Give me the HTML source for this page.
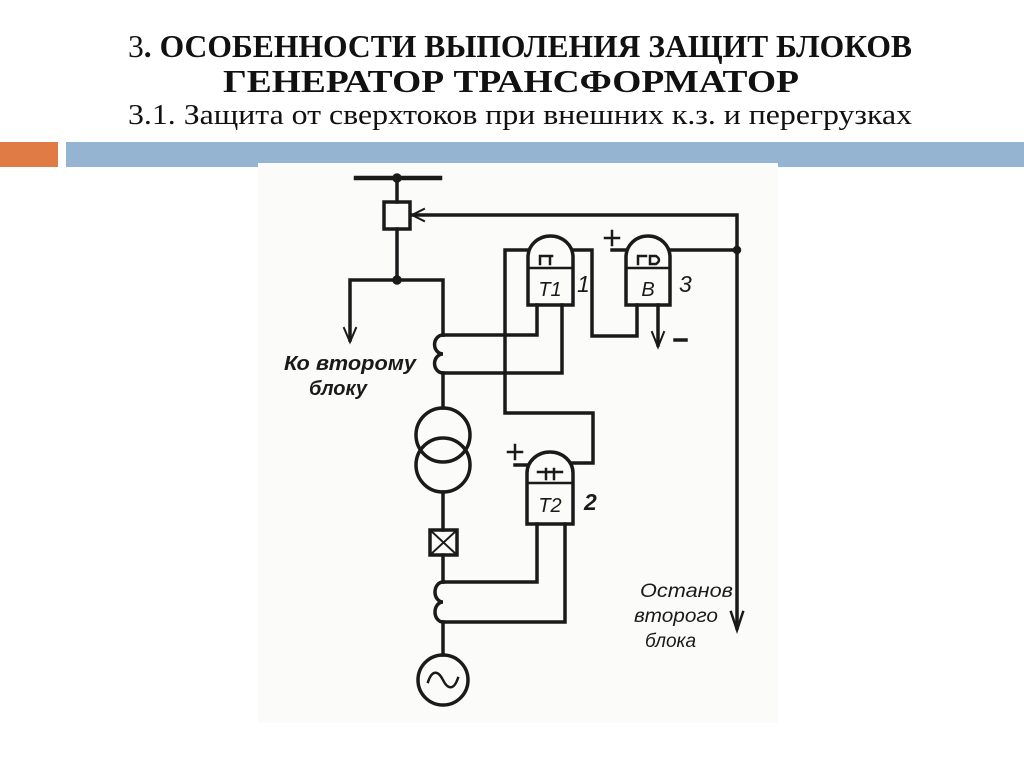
<!DOCTYPE html>
<html><head><meta charset="utf-8"><style>
html,body{margin:0;padding:0;background:#fff;}
svg{display:block}
</style></head><body>
<svg width="1024" height="767" viewBox="0 0 1024 767" xmlns="http://www.w3.org/2000/svg">
<rect width="1024" height="767" fill="#fff"/>
<g font-family="Liberation Serif, serif" fill="#111">
<text x="128" y="57" font-size="32" textLength="784" lengthAdjust="spacingAndGlyphs"><tspan>3</tspan><tspan font-weight="bold">. ОСОБЕННОСТИ ВЫПОЛЕНИЯ ЗАЩИТ БЛОКОВ</tspan></text>
<text x="223" y="92" font-size="32" font-weight="bold" textLength="576" lengthAdjust="spacingAndGlyphs">ГЕНЕРАТОР ТРАНСФОРМАТОР</text>
<text x="128" y="124" font-size="29" textLength="784" lengthAdjust="spacingAndGlyphs">3.1. Защита от сверхтоков при внешних к.з. и перегрузках</text>
</g>
<rect x="0" y="142" width="58" height="25" fill="#e07b45"/>
<rect x="66" y="142" width="958" height="25" fill="#95b4d1"/>
<rect x="258" y="163" width="520" height="560" fill="#fbfbf9"/>
<g stroke="#1a1a1a" stroke-width="3.5" fill="none" stroke-linecap="square">
<line x1="356" y1="178" x2="440" y2="178" stroke-width="4.5"/>
<circle cx="397" cy="178" r="3" fill="#1a1a1a"/>
<line x1="397" y1="178" x2="397" y2="202"/>
<rect x="384" y="202" width="26" height="27"/>
<line x1="397" y1="229" x2="397" y2="280"/>
<circle cx="397" cy="280" r="3" fill="#1a1a1a"/>
<polyline points="350,340 350,280 443,280 443,335"/>
<polyline points="344,328 350,342 356,328" stroke-width="2"/>
<path d="M443,335 a8,9 0 0 0 0,19 a8,9 0 0 0 0,19"/>
<line x1="443" y1="373" x2="443" y2="408"/>
<circle cx="443" cy="435" r="27"/>
<circle cx="443" cy="465" r="27"/>
<line x1="443" y1="492" x2="443" y2="530"/>
<rect x="430" y="530" width="27" height="25"/>
<line x1="430" y1="530" x2="457" y2="555" stroke-width="2"/>
<line x1="457" y1="530" x2="430" y2="555" stroke-width="2"/>
<line x1="443" y1="555" x2="443" y2="582"/>
<path d="M443,582 a8,10 0 0 0 0,20 a8,10 0 0 0 0,20"/>
<line x1="443" y1="622" x2="443" y2="655"/>
<circle cx="443" cy="680" r="25"/>
<path d="M428,682 c4,-12 10,-12 15,-2 s11,10 15,-2" stroke-width="2.5"/>
<polyline points="412,215 737,215 737,628"/>
<polyline points="424,209 412,215 424,221" stroke-width="2"/>
<polyline points="731,612 737,630 743,612" stroke-width="2.5"/>
<path d="M528,305 L528,257 A22.5,21 0 0 1 573,257 L573,305 Z"/>
<line x1="528" y1="268" x2="573" y2="268" stroke-width="2.5"/>
<path d="M540,264 v-8 h12 M550,256 v8" stroke-width="2.5"/>
<path d="M626,305 L626,257 A22,21 0 0 1 670,257 L670,305 Z"/>
<line x1="626" y1="268" x2="670" y2="268" stroke-width="2.5"/>
<path d="M638,264 v-8 h8 M650,264 v-8 h6 q6,4 0,8 h-5" stroke-width="2.5"/>
<path d="M527,524 L527,473 A23,21 0 0 1 573,473 L573,524 Z"/>
<line x1="527" y1="483" x2="573" y2="483" stroke-width="2.5"/>
<path d="M538,472 h24 M546,479 v-10 M554,479 v-10" stroke-width="2.5"/>
<polyline points="528,250 505,250 505,413 593,413 593,463 573,463"/>
<polyline points="573,250 592,250 592,336 637,336 637,305"/>
<polyline points="612,250 626,250"/>
<polyline points="670,250 737,250"/>
<circle cx="737" cy="250" r="2.5" fill="#1a1a1a"/>
<polyline points="537,305 537,335 443,335"/>
<polyline points="562,305 562,373 443,373"/>
<polyline points="658,305 658,345"/>
<polyline points="652,332 658,347 664,332" stroke-width="2"/>
<line x1="675" y1="340" x2="686" y2="340"/>
<polyline points="515,465 527,465"/>
<polyline points="537,524 537,582 443,582"/>
<polyline points="565,524 565,622 443,622"/>
<path d="M605,238 h14 M612,231 v14" stroke-width="2.5"/>
<path d="M508,452 h14 M515,445 v14" stroke-width="2.5"/>
</g>
<g font-family="Liberation Sans, DejaVu Sans, sans-serif" font-style="italic" fill="#1a1a1a">
<text x="550" y="296" font-size="20" text-anchor="middle">T1</text>
<text x="648" y="296" font-size="20" text-anchor="middle">B</text>
<text x="550" y="512" font-size="20" text-anchor="middle">T2</text>
<text x="577" y="292" font-size="23">1</text>
<text x="679" y="292" font-size="23">3</text>
<text x="584" y="510" font-size="23" font-weight="bold">2</text>
<text x="284" y="370" font-size="20" font-weight="bold" textLength="132" lengthAdjust="spacingAndGlyphs">Ко второму</text>
<text x="309" y="395" font-size="20" font-weight="bold">блоку</text>
<text x="640" y="597" font-size="19" textLength="93" lengthAdjust="spacingAndGlyphs">Останов</text>
<text x="634" y="622" font-size="19" textLength="84" lengthAdjust="spacingAndGlyphs">второго</text>
<text x="645" y="647" font-size="19">блока</text>
</g>
</svg>
</body></html>
